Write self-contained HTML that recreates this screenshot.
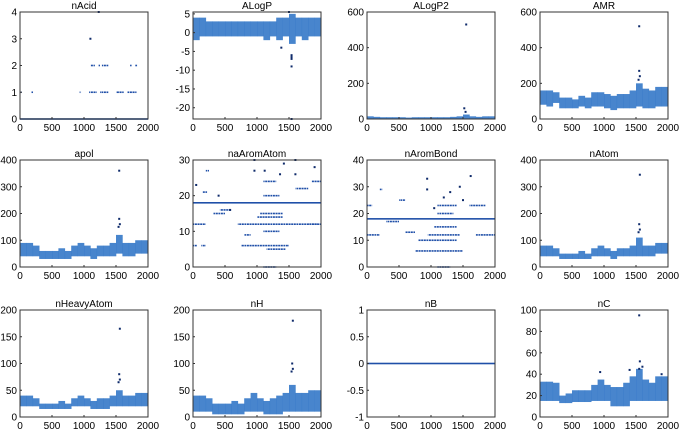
<!DOCTYPE html>
<html><head><meta charset="utf-8"><style>
body{margin:0;background:#fff;}
svg{display:block;font-family:"Liberation Sans",sans-serif;}
</style></head><body>
<svg id="fig" width="680" height="431" viewBox="0 0 680 431">
<defs><pattern id="dots" width="2.6" height="2" patternUnits="userSpaceOnUse"><rect width="2" height="2" fill="#1f4fa8"/></pattern></defs>
</svg>
<script>
// ---- data (bins of 100 samples: index 0..2000) ----
const xTicks=[0,500,1000,1500,2000];
const titles=["nAcid","ALogP","ALogP2","AMR","apol","naAromAtom","nAromBond","nAtom","nHeavyAtom","nH","nB","nC"];
const yTicks=[[0,1,2,3,4],[-20,-15,-10,-5,0,5],[0,200,400,600],[0,200,400,600],[0,100,200,300,400],[0,10,20,30],[0,10,20,30,40],[0,100,200,300,400],[0,50,100,150,200],[0,50,100,150,200],[-1,-0.5,0,0.5,1],[0,20,40,60,80,100]];
const yRange=[[0,4],[-23,5.5],[0,600],[0,600],[0,400],[0,30],[0,40],[0,400],[0,200],[0,200],[-1,1],[0,100]];
const bandLow=[null,
 [-2,-1,-1,-1,-1,-1,-1,-1,-1,-1,-1,-2,-1,-2,-1,-3,-1,-2,-1,-1],
 [0,0,0,0,0,0,0,0,0,0,0,0,0,0,0,0,0,0,0,0],
 [80,70,90,60,60,60,70,60,70,70,60,50,60,60,60,70,60,60,70,70],
 [40,40,40,30,30,30,30,30,40,40,40,30,40,40,40,50,40,40,50,50],
 null,null,
 [40,40,40,30,30,30,30,30,40,40,40,30,40,40,40,40,40,40,50,50],
 [20,20,20,15,15,15,15,15,20,20,20,15,15,15,20,20,20,20,20,20],
 [10,10,10,5,5,5,5,5,10,10,10,5,5,5,10,10,10,10,10,10],
 null,
 [15,15,15,13,13,14,14,14,15,15,15,10,10,10,15,15,15,15,15,15]];
const bandHigh=[null,
 [4,4,3,3,3,3,3,3,3,3,3,3,3,4,4,5,4,4,4,4],
 [15,12,10,10,10,10,8,10,10,10,10,10,10,12,15,25,15,12,15,15],
 [160,160,150,120,120,110,130,120,150,150,140,130,140,140,160,200,170,160,180,180],
 [90,90,80,60,60,60,70,60,80,90,80,70,80,80,90,120,90,90,100,100],
 null,null,
 [80,80,70,50,50,50,60,50,70,80,70,60,70,70,80,110,80,80,90,90],
 [40,40,35,25,25,25,30,25,35,40,35,30,35,35,40,50,40,40,45,45],
 [40,40,35,25,25,25,30,25,35,45,35,30,35,40,45,60,45,45,50,50],
 null,
 [33,33,32,20,22,25,25,25,30,35,30,28,28,32,38,45,35,32,38,38]];
const levelSegs=[
 [[0,0,2000],[1,0,20],[1,180,200],[1,930,950],[1,1080,1200],[1,1250,1380],[1,1500,1620],[1,1680,1820],[2,1100,1170],[2,1220,1250],[2,1280,1380],[2,1720,1740],[2,1800,1830]],
 null,null,null,null,
 [[18,0,2000],[12,0,200],[12,700,2000],[15,320,500],[16,420,600],[6,0,60],[6,130,200],[6,750,1500],[21,150,220],[27,200,250],[14,1000,1400],[10,1100,1350],[15,1050,1400],[20,1100,1350],[24,1100,1300],[22,1600,1800],[24,1850,2000],[9,800,900],[5,1150,1450],[0,1100,1300],[12,1800,1950]],
 [[18,0,2000],[12,0,200],[12,950,1450],[23,0,80],[17,300,500],[6,750,1500],[10,800,1400],[15,1050,1400],[20,1100,1350],[23,1100,1400],[13,600,750],[23,1600,1850],[12,1700,2000],[29,200,240],[25,500,600],[0,1100,1300]],
 null,null,null,
 [[0,0,2000]],
 null];
const outliers=[
 [[1100,3],[1230,4]],
 [[1380,-4],[1540,-6],[1540,-6.5],[1540,-7],[1540,-9],[1540,-23],[1500,5.5]],
 [[1550,530],[1520,60],[1540,40]],
 [[1550,520],[1550,270],[1560,240],[1540,220]],
 [[1550,360],[1550,180],[1560,160],[1540,150]],
 [[960,30],[1600,30],[1420,29],[960,27],[1120,27],[1360,26],[1600,26],[1900,28],[400,20],[580,16],[50,23]],
 [[940,33],[1620,34],[940,29],[1450,30],[1300,28],[1200,26],[1050,22],[1500,25]],
 [[1560,345],[1550,160],[1560,140],[1540,130]],
 [[1560,165],[1550,80],[1560,70],[1540,65]],
 [[1560,180],[1550,100],[1560,90],[1540,85]],
 [],
 [[1550,95],[1560,52],[1600,47],[940,42],[1400,44],[1900,40],[1550,45]]];
</script>
<script>
const NS="http://www.w3.org/2000/svg";
const svg=document.getElementById('fig');
const colX=[20,193,367,540], rowY=[12,160,310], W=128, H=107;
function mk(tag,attrs,parent){const e=document.createElementNS(NS,tag);for(const k in attrs)e.setAttribute(k,attrs[k]);(parent||svg).appendChild(e);return e;}
for(let p=0;p<12;p++){
  const x0=colX[p%4], y0=rowY[Math.floor(p/4)];
  const [ymin,ymax]=yRange[p];
  const sx=v=>x0+v/2000*W;
  const sy=v=>y0+H-(v-ymin)/(ymax-ymin)*H;
  const g=mk('g',{});
  
  
  const t=mk('text',{x:x0+W/2,y:y0-3,'text-anchor':'middle','font-size':'10',fill:'#000'},g);
  t.textContent=titles[p];
  
  
  if(bandLow[p]){
    bandLow[p].forEach((lo,i)=>{
      const hi=bandHigh[p][i];
      const r=mk('rect',{x:sx(i*100),y:sy(hi),width:W/20+0.3,height:Math.max(1.5,sy(lo)-sy(hi)),fill:'#2f74c6','fill-opacity':'0.88'},g);
      
      
    });
  }
  if(levelSegs[p]){
    levelSegs[p].forEach(s=>{
      const full=(s[2]-s[1])>=2000;
      const r=mk('rect',{x:sx(s[1]),y:sy(s[0])-0.8,width:Math.max(1.5,sx(s[2])-sx(s[1])),height:1.6,fill:full?'#1f4fa8':'url(#dots)'},g);
      
      
    });
  }
  outliers[p].forEach(pt=>{
    const c=mk('rect',{x:sx(pt[0])-1,y:sy(pt[1])-1,width:2,height:2,fill:'#0e2a6a'},g);
    
    
  });
  const box=mk('rect',{x:x0,y:y0,width:W,height:H,fill:'none',stroke:'#333','stroke-width':'1'},g);
  
  
  xTicks.forEach(v=>{
    mk('line',{x1:sx(v),x2:sx(v),y1:y0+H,y2:y0+H-2,stroke:'#333'},g);
    const l=mk('text',{x:sx(v),y:y0+H+12,'text-anchor':'middle','font-size':'10',fill:'#000'},g);
    l.textContent=v;
    
    
  });
  yTicks[p].forEach(v=>{
    mk('line',{x1:x0,x2:x0+2,y1:sy(v),y2:sy(v),stroke:'#333'},g);
    const l=mk('text',{x:x0-3,y:sy(v)+3.5,'text-anchor':'end','font-size':'10',fill:'#000'},g);
    l.textContent=v;
    
    
  });
}
</script>
</body></html>
